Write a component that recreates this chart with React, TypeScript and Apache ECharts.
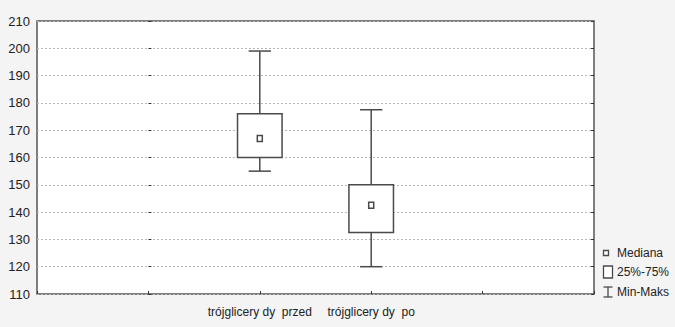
import React, { useEffect, useRef } from "react";
import * as echarts from "echarts";

const categories = ["trójglicery dy  przed", "trójglicery dy  po"];
const positions = [1, 2];
const minVals = [155, 120];
const q1Vals = [160, 132.5];
const medianVals = [167, 142.5];
const q3Vals = [176, 150];
const maxVals = [199, 177.5];
const yTicks = { min: 110, max: 210, interval: 10 };
const legendItems = ["Mediana", "25%-75%", "Min-Maks"];

const FONT = "'Liberation Sans Narrow', 'Liberation Sans', Arial, sans-serif";
const INK = "#4a4a4a";

export default function App() {
  const ref = useRef<HTMLDivElement>(null);
  useEffect(() => {
    const chart = echarts.init(ref.current!, undefined, { renderer: "svg" });
    const data = positions.map((p, i) => [p, minVals[i], q1Vals[i], medianVals[i], q3Vals[i], maxVals[i]]);
    chart.setOption({
      animation: false,
      backgroundColor: "#f4f4f4",
      grid: {
        left: 37,
        right: 81,
        top: 21,
        bottom: 33,
        show: true,
        backgroundColor: "#ffffff",
        borderColor: "#555",
        borderWidth: 1.5,
      },
      xAxis: {
        type: "value",
        min: -1,
        max: 4,
        interval: 1,
        axisLine: { show: false },
        axisTick: { show: true, inside: true, length: 3, lineStyle: { color: "#333" } },
        splitLine: { show: false },
        axisLabel: {
          margin: 12,
          fontFamily: FONT,
          fontSize: 12,
          color: "#222",
          formatter: (v: number) => {
            const i = positions.indexOf(v);
            return i >= 0 ? categories[i] : "";
          },
        },
      },
      yAxis: [
        {
          type: "value",
          min: yTicks.min,
          max: yTicks.max,
          interval: yTicks.interval,
          axisLine: { show: false },
          axisTick: { show: true, inside: true, length: 3, lineStyle: { color: "#333" } },
          splitLine: { show: true, lineStyle: { color: "#b5b5b5", type: [2, 2], width: 1 } },
          axisLabel: { fontFamily: FONT, fontSize: 13, color: "#222", margin: 7 },
        },
        {
          type: "value",
          position: "right",
          min: yTicks.min,
          max: yTicks.max,
          interval: yTicks.interval,
          axisLine: { show: false },
          axisTick: { show: true, inside: true, length: 3, lineStyle: { color: "#333" } },
          splitLine: { show: false },
          axisLabel: { show: false },
        },
      ],
      series: [
        {
          type: "custom",
          data,
          encode: { x: 0, y: [1, 2, 3, 4, 5] },
          renderItem: (params: any, api: any) => {
            const x = api.value(0);
            const pMin = api.coord([x, api.value(1)]);
            const pQ1 = api.coord([x, api.value(2)]);
            const pMed = api.coord([x, api.value(3)]);
            const pQ3 = api.coord([x, api.value(4)]);
            const pMax = api.coord([x, api.value(5)]);
            const boxW = api.size([0.4, 0])[0];
            const capW = api.size([0.2, 0])[0];
            const cx = pMed[0];
            const st = { stroke: INK, lineWidth: 1.5, fill: null };
            return {
              type: "group",
              children: [
                { type: "line", shape: { x1: cx, y1: pMax[1], x2: cx, y2: pQ3[1] }, style: st },
                { type: "line", shape: { x1: cx, y1: pQ1[1], x2: cx, y2: pMin[1] }, style: st },
                { type: "line", shape: { x1: cx - capW / 2, y1: pMax[1], x2: cx + capW / 2, y2: pMax[1] }, style: st },
                { type: "line", shape: { x1: cx - capW / 2, y1: pMin[1], x2: cx + capW / 2, y2: pMin[1] }, style: st },
                {
                  type: "rect",
                  shape: { x: cx - boxW / 2, y: pQ3[1], width: boxW, height: pQ1[1] - pQ3[1] },
                  style: { stroke: INK, lineWidth: 1.5, fill: "#ffffff" },
                },
                {
                  type: "rect",
                  shape: { x: cx - 2.5, y: pMed[1] - 3, width: 5, height: 6 },
                  style: { stroke: INK, lineWidth: 1.5, fill: "#ffffff" },
                },
              ],
            };
          },
        },
      ],
      graphic: [
        { type: "rect", shape: { x: 603.5, y: 250.5, width: 5, height: 5 }, style: { stroke: INK, lineWidth: 1.3, fill: "#fff" } },
        { type: "rect", shape: { x: 603.5, y: 266, width: 9, height: 12 }, style: { stroke: INK, lineWidth: 1.3, fill: "#fff" } },
        { type: "line", shape: { x1: 608, y1: 287, x2: 608, y2: 297 }, style: { stroke: INK, lineWidth: 1.3 } },
        { type: "line", shape: { x1: 603.5, y1: 287, x2: 612.5, y2: 287 }, style: { stroke: INK, lineWidth: 1.3 } },
        { type: "line", shape: { x1: 603.5, y1: 297, x2: 612.5, y2: 297 }, style: { stroke: INK, lineWidth: 1.3 } },
        ...legendItems.map((t, i) => ({
          type: "text",
          x: 617,
          y: [253, 272, 292][i],
          style: { text: t, fontFamily: FONT, fontSize: 12, fill: "#222", textVerticalAlign: "middle", verticalAlign: "middle" },
        })),
      ],
    });
    return () => chart.dispose();
  }, []);
  return <div ref={ref} style={{ position: "fixed", left: 0, top: 0, width: 675, height: 327 }} />;
}
